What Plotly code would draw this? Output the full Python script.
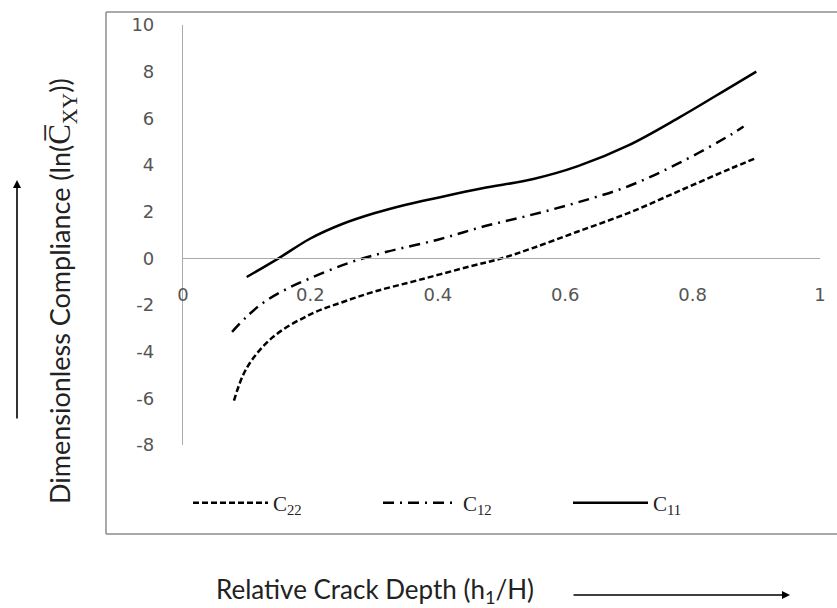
import plotly.graph_objects as go

# ---- data ----
x_c22 = [0.08, 0.10, 0.14, 0.20, 0.25, 0.30, 0.37, 0.45, 0.50, 0.55, 0.62, 0.70, 0.78, 0.86, 0.90]
y_c22 = [-6.1, -4.7, -3.4, -2.4, -1.88, -1.43, -0.93, -0.35, 0.0, 0.45, 1.15, 1.95, 2.9, 3.85, 4.3]

x_c12 = [0.077, 0.10, 0.126, 0.16, 0.20, 0.26, 0.32, 0.40, 0.47, 0.545, 0.62, 0.70, 0.78, 0.86, 0.88]
y_c12 = [-3.15, -2.5, -1.9, -1.35, -0.85, -0.2, 0.28, 0.8, 1.35, 1.85, 2.4, 3.1, 4.1, 5.3, 5.65]

x_c11 = [0.10, 0.15, 0.20, 0.25, 0.30, 0.35, 0.40, 0.47, 0.55, 0.62, 0.70, 0.78, 0.86, 0.90]
y_c11 = [-0.8, 0.0, 0.85, 1.47, 1.93, 2.3, 2.6, 3.0, 3.4, 3.95, 4.85, 6.05, 7.35, 8.0]

series_names = ["C<sub>22</sub>", "C<sub>12</sub>", "C<sub>11</sub>"]
x_ticks = [0, 0.2, 0.4, 0.6, 0.8, 1]
x_tick_labels = ["0", "0.2", "0.4", "0.6", "0.8", "1"]
y_ticks = [-8, -6, -4, -2, 0, 2, 4, 6, 8, 10]
y_tick_labels = ["-8", "-6", "-4", "-2", "0", "2", "4", "6", "8", "10"]

W, H = 837, 608
L, R, T, B = 183, 17, 25, 163
pw, ph = W - L - R, H - T - B


def px(xp):
    return (xp - L) / pw


def py(yp):
    return (H - B - yp) / ph


fig = go.Figure()
fig.add_trace(go.Scatter(x=x_c22, y=y_c22, mode="lines", name=series_names[0],
                         line=dict(color="black", width=2.5, dash="6px,3px", shape="spline")))
fig.add_trace(go.Scatter(x=x_c12, y=y_c12, mode="lines", name=series_names[1],
                         line=dict(color="black", width=2.5, dash="11px,6px,2px,6px", shape="spline")))
fig.add_trace(go.Scatter(x=x_c11, y=y_c11, mode="lines", name=series_names[2],
                         line=dict(color="black", width=2.5, shape="spline")))

tick_font = dict(family="DejaVu Sans", size=18, color="#555555")

fig.update_layout(
    width=W, height=H,
    margin=dict(l=L, r=R, t=T, b=B),
    paper_bgcolor="white", plot_bgcolor="white",
    showlegend=True,
    legend=dict(orientation="h", x=px(188), y=py(503), xanchor="left", yanchor="middle",
                itemwidth=75, entrywidth=100, entrywidthmode="pixels",
                font=dict(family="Liberation Serif", size=21, color="#222"),
                bgcolor="rgba(0,0,0,0)", traceorder="normal"),
    xaxis=dict(range=[0, 1], tickvals=x_ticks, ticktext=x_tick_labels, showgrid=False,
               zeroline=False, showline=True, linecolor="#aaaaaa", linewidth=1.2,
               anchor="free", position=8 / 18, ticks="", ticklabelstandoff=20,
               tickfont=tick_font),
    yaxis=dict(range=[-8, 10], tickvals=y_ticks, ticktext=y_tick_labels, showgrid=False,
               zeroline=False, showline=True, linecolor="#aaaaaa", linewidth=1.2, ticks="",
               ticklabelstandoff=24, tickfont=tick_font),
)

frame = dict(color="#8c8c8c", width=1.5)
fig.add_shape(type="line", xref="paper", yref="paper", x0=px(106), x1=px(106), y0=py(534), y1=py(12), line=frame)
fig.add_shape(type="line", xref="paper", yref="paper", x0=px(106), x1=px(840), y0=py(12), y1=py(12), line=frame)
fig.add_shape(type="line", xref="paper", yref="paper", x0=px(106), x1=px(840), y0=py(534), y1=py(534), line=frame)

fig.add_annotation(xref="paper", yref="paper", x=px(62), y=py(291), xanchor="center", yanchor="middle",
                   showarrow=False, textangle=-90,
                   text="Dimensionless Compliance (ln(<span style='font-family:Liberation Serif;font-size:31px'>C̅<sub>XY</sub></span>))",
                   font=dict(family="Lato", size=27, color="#222"))
fig.add_annotation(xref="paper", yref="paper", x=px(375), y=py(590), xanchor="center", yanchor="middle",
                   showarrow=False,
                   text="Relative Crack Depth (h<sub>1</sub>/H)",
                   font=dict(family="Lato", size=26, color="#222"))

# direction arrows
fig.add_annotation(xref="paper", yref="paper", x=px(17), y=py(180), ax=0, ay=240, text="",
                   showarrow=True, arrowhead=2, arrowsize=1, arrowwidth=1.6, arrowcolor="black")
fig.add_annotation(xref="paper", yref="paper", x=px(790), y=py(595), ax=-218, ay=0, text="",
                   showarrow=True, arrowhead=2, arrowsize=1, arrowwidth=1.6, arrowcolor="black")

fig.write_html("out.html", config={"displayModeBar": False},
               post_script="document.body.style.margin='0';")
